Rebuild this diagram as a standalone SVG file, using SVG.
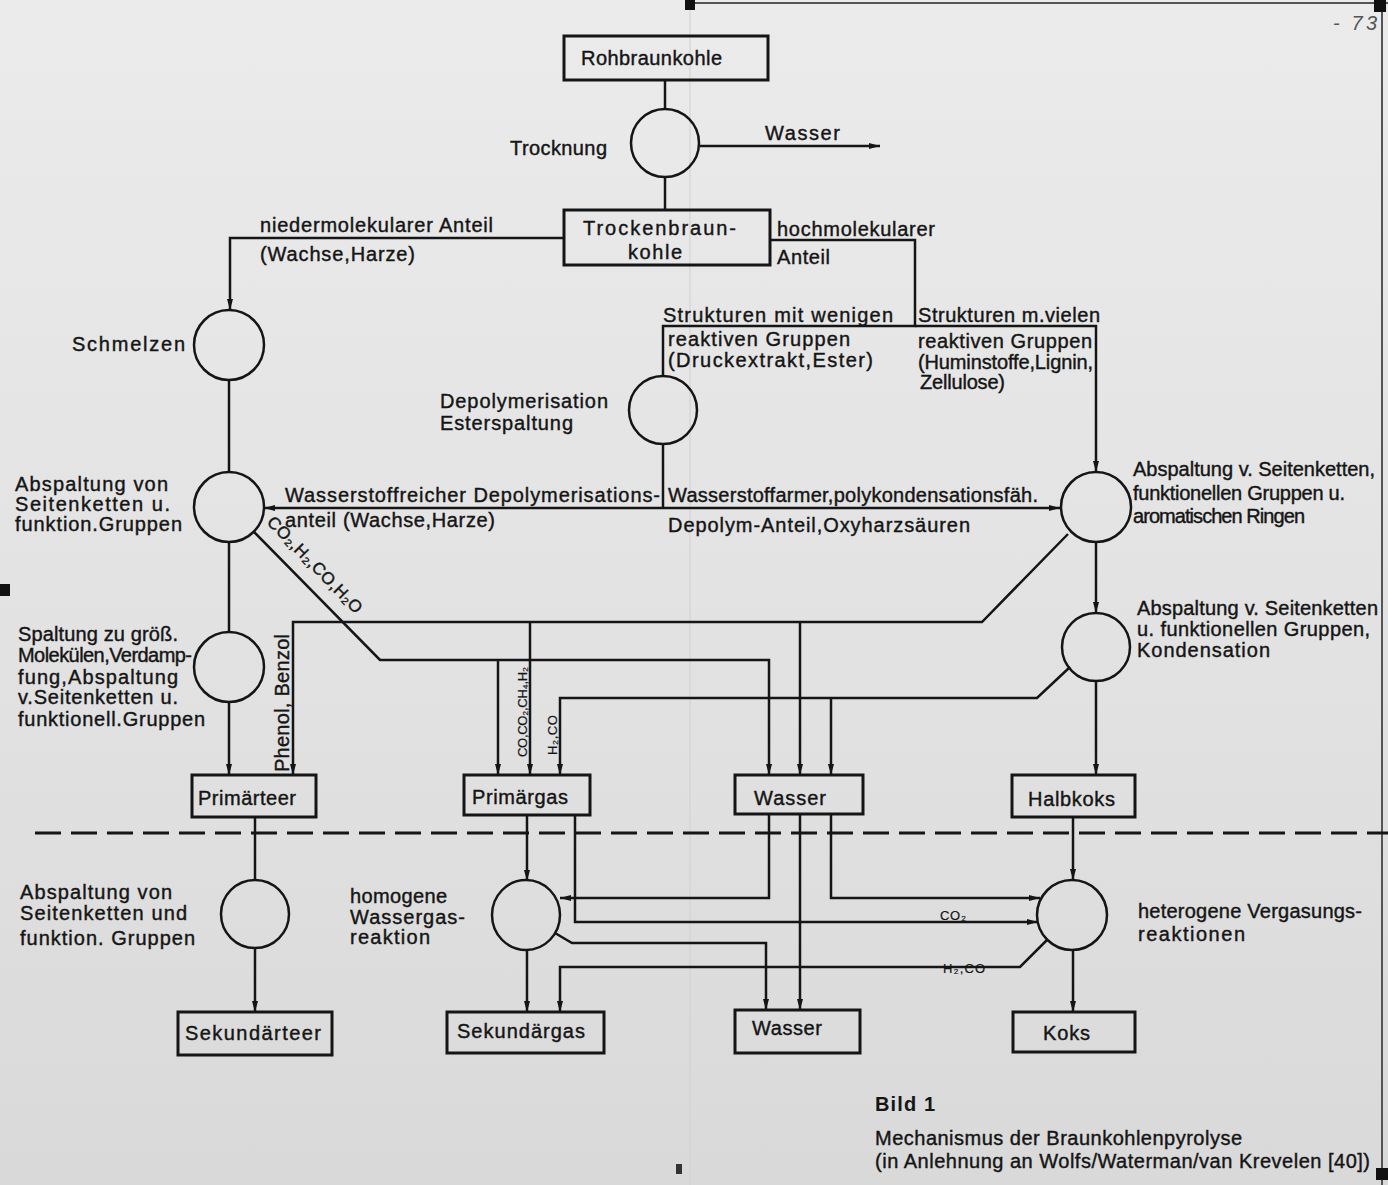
<svg xmlns="http://www.w3.org/2000/svg" width="1388" height="1185" viewBox="0 0 1388 1185">
<defs>
<linearGradient id="bg" x1="0" y1="0" x2="0" y2="1">
<stop offset="0" stop-color="#ebebeb"/>
<stop offset="0.55" stop-color="#e2e2e2"/>
<stop offset="1" stop-color="#d9d9d9"/>
</linearGradient>
<marker id="ah" viewBox="0 0 11 8" refX="11" refY="4" markerWidth="11" markerHeight="8" markerUnits="userSpaceOnUse" orient="auto">
<path d="M0,1 L11,4 L0,7 Z" fill="#151515"/>
</marker>
</defs>
<style>
text{font-family:"Liberation Sans","DejaVu Sans",sans-serif;font-size:20px;fill:#151515;stroke:#151515;stroke-width:0.4}
.sm{font-size:13px;stroke-width:0.2}
.b{font-weight:bold;stroke-width:0}
.box{fill:none;stroke:#151515;stroke-width:3}
.c{fill:none;stroke:#151515;stroke-width:2.5}
.w{fill:none;stroke:#151515;stroke-width:2.5}
.a{marker-end:url(#ah)}
</style>
<rect x="0" y="0" width="1388" height="1185" fill="url(#bg)"/>
<line x1="690" y1="0" x2="690" y2="1185" stroke="#d0d0d0" stroke-width="1"/>
<line x1="690" y1="3" x2="1388" y2="3" stroke="#555" stroke-width="2"/>
<line x1="1382" y1="0" x2="1382" y2="1185" stroke="#555" stroke-width="2"/>
<rect x="685" y="0" width="10" height="10" fill="#111"/>
<rect x="1374" y="0" width="12" height="12" fill="#111"/>
<rect x="0" y="584" width="10" height="12" fill="#111"/>
<rect x="1376" y="1168" width="12" height="12" fill="#111"/>
<rect x="676" y="1164" width="6" height="10" fill="#333"/>
<text x="1333" y="30" style="fill:#555;stroke:none;font-style:italic" textLength="44">- 73</text>

<g id="connectors">
<path class="w" d="M665,80 V109"/>
<path class="w" d="M665,177 V210"/>
<path class="w a" d="M700,146 H880"/>
<path class="w a" d="M564,238 H230 V310"/>
<path class="w" d="M770,240 H915 V326 H663 V376"/>
<path class="w a" d="M915,326 H1096 V472"/>
<path class="w" d="M229,380 V472"/>
<path class="w" d="M229,542 V632"/>
<path class="w a" d="M229,702 V775"/>
<path class="w" d="M663,443 V508"/>
<path class="w a" d="M663,508 H264"/>
<path class="w a" d="M663,508 H1060"/>
<path class="w a" d="M254,532 L380,660 H769 V775"/>
<path class="w a" d="M498,660 V775"/>
<path class="w a" d="M1068,534 L982,622 H293 V775"/>
<path class="w a" d="M530,622 V775"/>
<path class="w a" d="M800,622 V775"/>
<path class="w a" d="M1096,542 V613"/>
<path class="w a" d="M1070,667 L1037,698 H560 V775"/>
<path class="w a" d="M831,698 V775"/>
<path class="w a" d="M1096,681 V775"/>
<path class="w" d="M255,817 V880"/>
<path class="w a" d="M255,948 V1012"/>
<path class="w a" d="M527,815 V881"/>
<path class="w a" d="M575,815 V922 H1038"/>
<path class="w a" d="M769,814 V898 H560"/>
<path class="w a" d="M800,814 V1010"/>
<path class="w a" d="M831,814 V898 H1040"/>
<path class="w a" d="M555,933 L572,943 H766 V1010"/>
<path class="w a" d="M1047,940 L1020,967 H560 V1012"/>
<path class="w a" d="M527,949 V1012"/>
<path class="w a" d="M1073,817 V880"/>
<path class="w a" d="M1073,950 V1012"/>
<path d="M35,833 H1388" fill="none" stroke="#151515" stroke-width="2.8" stroke-dasharray="26 10"/>
</g>

<g id="labels">
<text x="765" y="140" textLength="75">Wasser</text>
<text x="260" y="232" textLength="233">niedermolekularer Anteil</text>
<text x="260" y="261" textLength="155">(Wachse,Harze)</text>
<text x="777" y="236" textLength="158">hochmolekularer</text>
<text x="777" y="264" textLength="53">Anteil</text>
<text x="663" y="322" textLength="230">Strukturen mit wenigen</text>
<text x="668" y="346" textLength="182">reaktiven Gruppen</text>
<text x="668" y="367" textLength="205">(Druckextrakt,Ester)</text>
<text x="918" y="322" textLength="182">Strukturen m.vielen</text>
<text x="918" y="348" textLength="174">reaktiven Gruppen</text>
<text x="918" y="369" textLength="175">(Huminstoffe,Lignin,</text>
<text x="920" y="389" textLength="85">Zellulose)</text>
<text x="285" y="502" textLength="375">Wasserstoffreicher  Depolymerisations-</text>
<text x="285" y="527" textLength="210">anteil (Wachse,Harze)</text>
<text x="668" y="502" textLength="370">Wasserstoffarmer,polykondensationsfäh.</text>
<text x="668" y="532" textLength="302">Depolym-Anteil,Oxyharzsäuren</text>
<text transform="translate(266,523) rotate(45.6)" textLength="128" style="font-size:17px">CO₂,H₂,CO,H₂O</text>
<text transform="translate(289,772) rotate(-90)" textLength="138">Phenol, Benzol</text>
<text class="sm" transform="translate(527,757) rotate(-90)" textLength="90">CO,CO₂,CH₄,H₂</text>
<text class="sm" transform="translate(557,755) rotate(-90)" textLength="40">H₂,CO</text>
<text class="sm" x="940" y="920" textLength="26">CO₂</text>
<text class="sm" x="943" y="973" textLength="42">H₂,CO</text>
</g>

<g id="n-rohbraunkohle"><rect class="box" x="564" y="36" width="204" height="44"/><text x="581" y="65" textLength="141">Rohbraunkohle</text></g>
<g id="n-trocknung"><circle class="c" cx="665" cy="143" r="34"/><text x="510" y="155" textLength="97">Trocknung</text></g>
<g id="n-trockenbraunkohle"><rect class="box" x="564" y="210" width="206" height="55"/><text x="583" y="235" textLength="153">Trockenbraun-</text><text x="628" y="259" textLength="54">kohle</text></g>
<g id="n-schmelzen"><circle class="c" cx="229" cy="345" r="35"/><text x="72" y="351" textLength="113">Schmelzen</text></g>
<g id="n-depolymerisation"><circle class="c" cx="663" cy="410" r="34"/><text x="440" y="408" textLength="168">Depolymerisation</text><text x="440" y="430" textLength="133">Esterspaltung</text></g>
<g id="n-abspaltung-links"><circle class="c" cx="229" cy="507" r="35"/><text x="15" y="491" textLength="153">Abspaltung von</text><text x="15" y="511" textLength="155">Seitenketten u.</text><text x="15" y="531" textLength="167">funktion.Gruppen</text></g>
<g id="n-abspaltung-rechts1"><circle class="c" cx="1096" cy="507" r="35"/><text x="1133" y="476" textLength="242">Abspaltung v. Seitenketten,</text><text x="1133" y="500" textLength="212">funktionellen Gruppen u.</text><text x="1133" y="523" textLength="172">aromatischen Ringen</text></g>
<g id="n-spaltung"><circle class="c" cx="229" cy="667" r="35"/><text x="18" y="641" textLength="160">Spaltung zu größ.</text><text x="18" y="662" textLength="174">Molekülen,Verdamp-</text><text x="18" y="684" textLength="160">fung,Abspaltung</text><text x="18" y="704" textLength="160">v.Seitenketten u.</text><text x="18" y="726" textLength="187">funktionell.Gruppen</text></g>
<g id="n-abspaltung-rechts2"><circle class="c" cx="1096" cy="647" r="34"/><text x="1137" y="615" textLength="241">Abspaltung v. Seitenketten</text><text x="1137" y="636" textLength="233">u. funktionellen Gruppen,</text><text x="1137" y="657" textLength="133">Kondensation</text></g>
<g id="n-primaerteer"><rect class="box" x="192" y="775" width="124" height="42"/><text x="198" y="805" textLength="98">Primärteer</text></g>
<g id="n-primaergas"><rect class="box" x="464" y="775" width="126" height="40"/><text x="472" y="804" textLength="96">Primärgas</text></g>
<g id="n-wasser1"><rect class="box" x="735" y="775" width="128" height="39"/><text x="754" y="805" textLength="72">Wasser</text></g>
<g id="n-halbkoks"><rect class="box" x="1012" y="775" width="123" height="42"/><text x="1028" y="806" textLength="87">Halbkoks</text></g>
<g id="n-abspaltung-sek"><circle class="c" cx="255" cy="914" r="34"/><text x="20" y="899" textLength="152">Abspaltung von</text><text x="20" y="920" textLength="167">Seitenketten und</text><text x="20" y="945" textLength="175">funktion. Gruppen</text></g>
<g id="n-homogen"><ellipse class="c" cx="526" cy="915" rx="34" ry="35"/><text x="350" y="903" textLength="97">homogene</text><text x="350" y="924" textLength="115">Wassergas-</text><text x="350" y="944" textLength="80">reaktion</text></g>
<g id="n-heterogen"><circle class="c" cx="1072" cy="915" r="35"/><text x="1138" y="918" textLength="224">heterogene Vergasungs-</text><text x="1138" y="941" textLength="107">reaktionen</text></g>
<g id="n-sekundaerteer"><rect class="box" x="178" y="1012" width="154" height="43"/><text x="185" y="1040" textLength="136">Sekundärteer</text></g>
<g id="n-sekundaergas"><rect class="box" x="447" y="1012" width="157" height="41"/><text x="457" y="1038" textLength="128">Sekundärgas</text></g>
<g id="n-wasser2"><rect class="box" x="735" y="1010" width="125" height="43"/><text x="752" y="1035" textLength="70">Wasser</text></g>
<g id="n-koks"><rect class="box" x="1013" y="1012" width="122" height="40"/><text x="1043" y="1040" textLength="47">Koks</text></g>

<g id="caption">
<text class="b" x="875" y="1111" textLength="60">Bild 1</text>
<text x="875" y="1145" textLength="367">Mechanismus der Braunkohlenpyrolyse</text>
<text x="875" y="1168" textLength="495">(in Anlehnung an Wolfs/Waterman/van Krevelen [40])</text>
</g>
</svg>
